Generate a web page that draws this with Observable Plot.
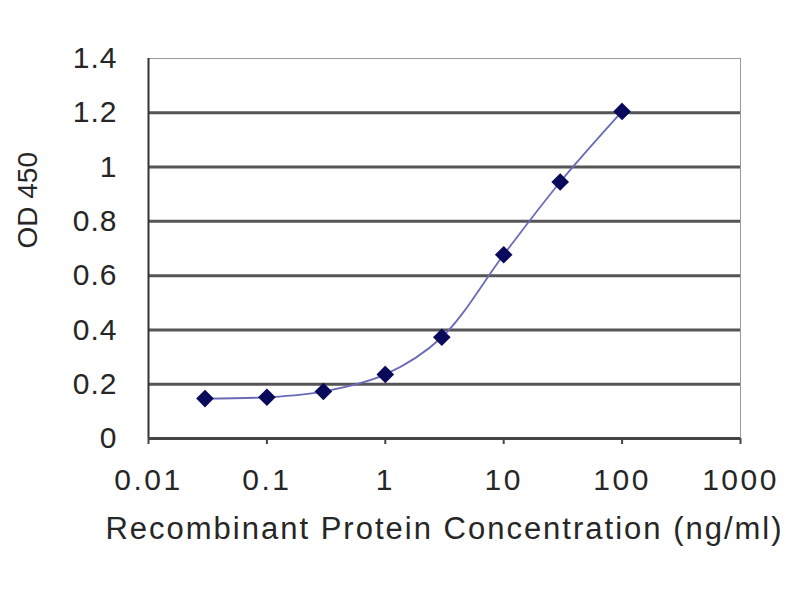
<!DOCTYPE html>
<html>
<head>
<meta charset="utf-8">
<script src="https://cdn.jsdelivr.net/npm/d3@7"></script>
<script src="https://cdn.jsdelivr.net/npm/@observablehq/plot@0.6"></script>
<style>
  html, body { margin: 0; padding: 0; background: #fff; }
  #chart svg { font-family: "Liberation Sans", Arial, sans-serif; }
  #chart g[aria-label="x-axis tick label"] text { letter-spacing: 2.5px; }
  #chart g[aria-label="y-axis tick label"] text { letter-spacing: 1px; }
</style>
</head>
<body>
<div id="chart"></div>
<script>
// concentration (ng/ml) vs OD 450
const concentrations = [0.03, 0.1, 0.3, 1, 3, 10, 30, 100];
const odValues = [0.147, 0.152, 0.173, 0.236, 0.373, 0.677, 0.945, 1.205];

const xTicks = [0.01, 0.1, 1, 10, 100, 1000];
const yTicks = [0, 0.2, 0.4, 0.6, 0.8, 1, 1.2, 1.4];
const gridLines = [0.2, 0.4, 0.6, 0.8, 1, 1.2];

const points = concentrations.map((c, i) => ({conc: c, od: odValues[i]}));

const chart = Plot.plot({
  width: 800,
  height: 600,
  marginLeft: 148,
  marginRight: 60,
  marginTop: 58,
  marginBottom: 162,
  style: {fontFamily: "Liberation Sans, Arial, sans-serif", background: "#fff"},
  x: {type: "log", domain: [0.01, 1000]},
  y: {domain: [0, 1.4]},
  marks: [
    // frame top/right
    Plot.ruleY([1.4], {stroke: "#9a9a9a", strokeWidth: 1}),
    Plot.ruleX([1000], {stroke: "#9a9a9a", strokeWidth: 1}),
    Plot.ruleY(gridLines, {stroke: "#555", strokeWidth: 3}),
    Plot.axisX({
      ticks: xTicks,
      tickFormat: d => String(d),
      tickSize: 6,
      tickPadding: 24,
      fontSize: 30,
      stroke: "#444",
      strokeWidth: 2,
      label: null,
      fill: "#262626"
    }),
    Plot.axisY({
      ticks: yTicks,
      tickFormat: d => String(+d.toFixed(1)),
      tickSize: 0,
      tickPadding: 31,
      fontSize: 30,
      label: null,
      fill: "#262626"
    }),
    Plot.ruleX([0.01], {stroke: "#333", strokeWidth: 2}),
    Plot.ruleY([0], {stroke: "#444", strokeWidth: 3}),
    Plot.line(points, {
      x: "conc",
      y: "od",
      curve: "catmull-rom",
      stroke: "#6a6ab8",
      strokeWidth: 1.8
    }),
    Plot.dot(points, {
      x: "conc",
      y: "od",
      symbol: "diamond2",
      r: 7,
      fill: "#0a0a5c",
      stroke: "#0a0a5c"
    }),
    Plot.text(["OD 450"], {
      frameAnchor: "left",
      dx: -120,
      rotate: -90,
      fontSize: 28,
      fill: "#262626"
    }),
    Plot.text(["Recombinant Protein Concentration (ng/ml)"], {
      frameAnchor: "bottom",
      dy: 100,
      fontSize: 31,
      fill: "#262626"
    })
  ]
});

d3.select(chart).selectAll("text")
  .filter(function () { return this.textContent.startsWith("Recombinant"); })
  .style("letter-spacing", "2px");

document.getElementById("chart").appendChild(chart);
</script>
</body>
</html>
